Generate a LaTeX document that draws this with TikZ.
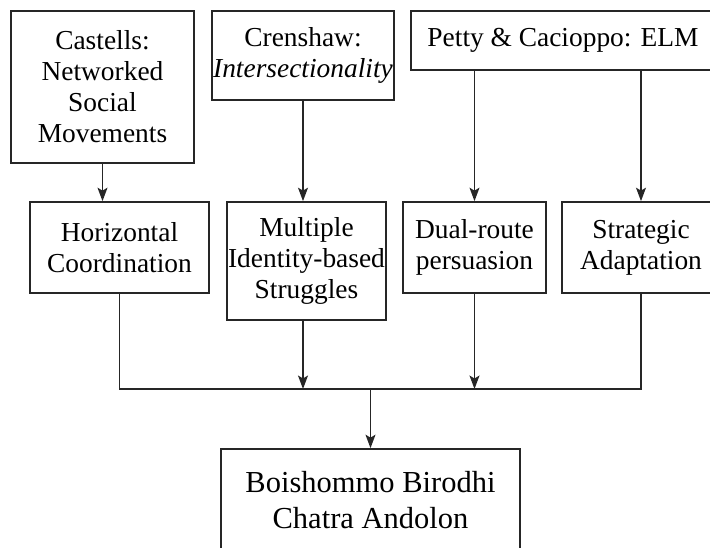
\documentclass[tikz,border=0pt]{standalone}
\usepackage{fontspec}
\setmainfont{Liberation Serif}
\usetikzlibrary{arrows.meta, positioning}

\begin{document}
\begin{tikzpicture}[
          box/.style={
              draw=black!85,
              fill=white,
              line width=1.2pt,
              inner sep=1pt,
              align=center,
              font=\fontsize{19.5}{22}\selectfont
            },
          outcome/.style={
              box,
              minimum width=7.475cm,
              minimum height=2.55cm,
              font=\fontsize{21.7}{25}\selectfont
            },
          arr/.style={-{Stealth[length=9.5pt, width=7pt, inset=2pt]}, black!85, line width=1.4pt},
          link/.style={black!85, line width=1.4pt}
        ]
        \useasboundingbox (0,0) rectangle (17.75,-13.675);

        \node[box, minimum width=4.575cm, minimum height=3.8cm] (castells) at (2.5625,-2.175) {Castells:\\Networked\\Social\\Movements};
        \node[box, minimum width=4.5cm, minimum height=2.225cm] (crenshaw) at (7.575,-1.3875) {Crenshaw:\\\textit{Intersectionality}};
        \node[box, minimum width=7.6cm, minimum height=1.475cm] (petty) at (14.075,-1.0125) {Petty \& Cacioppo: ELM};

        \node[box, minimum width=4.475cm, minimum height=2.275cm] (horiz_coord) at (2.9875,-6.1875) {Horizontal\\Coordination};
        \node[box, minimum width=3.975cm, minimum height=2.95cm] (multi_ident) at (7.6625,-6.525) {Multiple\\Identity-based\\Struggles};
        \node[box, minimum width=3.575cm, minimum height=2.275cm] (dual_route) at (11.8625,-6.1875) {Dual-route\\persuasion};
        \node[box, minimum width=3.95cm, minimum height=2.275cm] (strat_adapt) at (16.025,-6.1875) {Strategic\\Adaptation};

        \node[outcome] (boishommo) at (9.2625,-12.5) {Boishommo Birodhi\\Chatra Andolon};

        \coordinate (bus_left) at (horiz_coord.south |- 0,-9.725);
        \coordinate (bus_right) at (strat_adapt.south |- 0,-9.725);
        \coordinate (bus_mid) at (boishommo.north |- 0,-9.725);

        \draw[arr] (castells.south) -- (castells.south |- horiz_coord.north);
        \draw[arr] (crenshaw.south) -- (crenshaw.south |- multi_ident.north);
        \draw[arr] (dual_route.north |- petty.south) -- (dual_route.north);
        \draw[arr] (strat_adapt.north |- petty.south) -- (strat_adapt.north);

        \draw[link] (horiz_coord.south) -- (bus_left) -- (bus_right) -- (strat_adapt.south);
        \draw[arr] (crenshaw.south |- multi_ident.south) -- (crenshaw.south |- bus_left);
        \draw[arr] (dual_route.south) -- (dual_route.south |- bus_left);
        \draw[arr] (bus_mid) -- (boishommo.north);
      \end{tikzpicture}
\end{document}
